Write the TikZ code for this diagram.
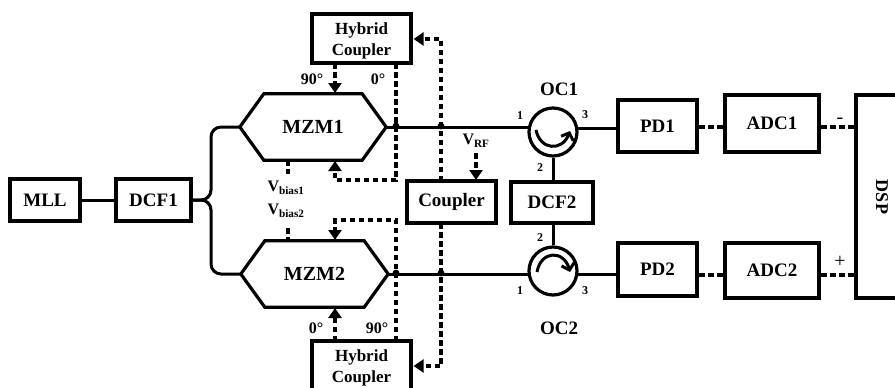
\documentclass[tikz,border=0pt]{standalone}
\usepackage{fontspec}
\setmainfont{Liberation Serif}
\usetikzlibrary{arrows.meta}
\tikzset{
	blk/.style={draw,line width=3.2,rectangle,inner sep=0,font=\bfseries\fontsize{19}{21}\selectfont,align=center},
	hybblk/.style={blk,font=\bfseries\fontsize{17}{21}\selectfont},
	hexnode/.style={inner sep=0,font=\bfseries\fontsize{20}{22}\selectfont},
	circnode/.style={draw,circle,line width=3.2,minimum size=48,inner sep=0},
	lbl/.style={inner sep=0,font=\bfseries\fontsize{16}{18}\selectfont},
	oclbl/.style={inner sep=0,font=\bfseries\fontsize{19}{21}\selectfont},
	numlbl/.style={inner sep=0,font=\bfseries\fontsize{12}{14}\selectfont},
	fib/.style={line width=3},
	sig/.style={line width=3.2,dash pattern=on 5.5pt off 3.5pt},
	sigarrow/.style={sig,-{Triangle[length=10pt,width=13pt]}},
}
\begin{document}
\begin{tikzpicture}[x=1pt,y=-1pt]
	\useasboundingbox (0,0) rectangle (895,388);
	% left part
	\node[blk,minimum width=70,minimum height=42] (mll) at (45,200) {MLL};
	\node[blk,minimum width=75,minimum height=42] (dcfa) at (153.5,200) {DCF1};
	\draw[fib] (mll) -- (dcfa);
	% modulators
	\node[hexnode,minimum width=146,minimum height=66] (mzma) at (313,127) {MZM1};
	\node[hexnode,minimum width=147,minimum height=66] (mzmb) at (314.5,274) {MZM2};
	\foreach \m in {mzma,mzmb}{
		\draw[line width=3.2] (\m.west) -- ([xshift=24]\m.north west) -- ([xshift=-24]\m.north east)
			-- (\m.east) -- ([xshift=-24]\m.south east) -- ([xshift=24]\m.south west) -- cycle;
	}
	\draw[fib,rounded corners=10] (dcfa.east) -- (211,200) -- (211,127) -- (mzma.west);
	\draw[fib,rounded corners=10] (dcfa.east) -- (211,200) -- (211,274) -- (mzmb.west);
	% hybrid couplers
	\node[hybblk,minimum width=99,minimum height=49] (hca) at (361.5,38.5) {\rule{0pt}{17pt}Hybrid\\Coupler};
	\node[hybblk,minimum width=99,minimum height=49] (hcb) at (361.5,365.5) {\rule{0pt}{17pt}Hybrid\\Coupler};
	\node[blk,minimum width=89,minimum height=42] (cpl) at (451.5,202) {Coupler};
	\coordinate (va) at (335,63);
	\coordinate (vb) at (335,93);
	\coordinate (ua) at (396,63);
	\coordinate (ub) at (396,180);
	\coordinate (uc) at (335,180);
	\coordinate (ud) at (335,161);
	\coordinate (wa) at (335,341);
	\coordinate (wb) at (335,308);
	\coordinate (xa) at (396,341);
	\coordinate (xb) at (396,220);
	\coordinate (xc) at (335,220);
	\coordinate (xd) at (335,240);
	\coordinate (ca) at (441,181);
	\coordinate (cb) at (441,39);
	\coordinate (cc) at (441,223);
	\coordinate (cd) at (441,366);
	\coordinate (rfa) at (476,153);
	\coordinate (rfb) at (476,180);
	\draw[sigarrow] (va) -- (vb);
	\draw[sigarrow] (ua) -- (ub) -- (uc) -- (ud);
	\draw[sigarrow] (wa) -- (wb);
	\draw[sigarrow] (xa) -- (xb) -- (xc) -- (xd);
	\draw[sigarrow] (ca) -- (cb) -- ([xshift=1]hca.east|-cb);
	\draw[sigarrow] (cc) -- (cd) -- ([xshift=1]hcb.east|-cd);
	\draw[sigarrow] (rfa) -- (rfb);
	% bias stubs
	\draw[sig] (288,160) -- (288,174);
	\draw[sig] (288,228) -- (288,241);
	\node[lbl] (bias1) at (286,188) {V\textsubscript{bias1}};
	\node[lbl] (bias2) at (286,211) {V\textsubscript{bias2}};
	\node[lbl] (vrf) at (476,141) {V\textsubscript{RF}};
	\node[lbl] (pha) at (312,79) {90°};
	\node[lbl] (phb) at (378,79) {0°};
	\node[lbl] (phc) at (316,328) {0°};
	\node[lbl] (phd) at (377,328) {90°};
	% circulators
	\node[circnode] (oca) at (553,132) {};
	\node[circnode] (ocb) at (553,271) {};
	\node[blk,minimum width=82,minimum height=41] (dcfb) at (552,202.5) {DCF2};
	\coordinate (ina) at (529,127);
	\coordinate (inb) at (529,274);
	\draw[fib] (mzma.east) -- (ina);
	\draw[fib] (mzmb.east) -- (inb);
	\fill (396,126) circle (3.4);
	\fill (441,126) circle (3.4);
	\fill (396,273) circle (3.4);
	\fill (441,273) circle (3.4);
	\draw[fib] (oca.south) -- (oca.south|-dcfb.north);
	\draw[fib] (ocb.north|-dcfb.south) -- (ocb.north);
	\draw[line width=3,-{Straight Barb[length=6pt,width=13pt]}] (536,130) .. controls (540,150) and (562,152) .. (570,131);
	\draw[line width=3,-{Straight Barb[length=6pt,width=13pt]}] (537,272) .. controls (541,250) and (564,250) .. (570,272);
	\node[oclbl] (oclbla) at (559,89) {OC1};
	\node[oclbl] (oclblb) at (559,328) {OC2};
	\node[numlbl] (na) at (520,116) {1};
	\node[numlbl] (nb) at (585,115) {3};
	\node[numlbl] (nc) at (540,168) {2};
	\node[numlbl] (nd) at (540,238) {2};
	\node[numlbl] (ne) at (520,291) {1};
	\node[numlbl] (nf) at (585,291) {3};
	% right part
	\node[blk,minimum width=79,minimum height=52] (pda) at (657.5,126) {PD1};
	\node[blk,minimum width=79,minimum height=53] (pdb) at (657.5,269.5) {PD2};
	\node[blk,minimum width=94,minimum height=57] (adca) at (772,123.5) {ADC1};
	\node[blk,minimum width=94,minimum height=55] (adcb) at (772,270.5) {ADC2};
	\node[blk,minimum width=60,minimum height=203] (dsp) at (886,196.5) {};
	\node[inner sep=0,rotate=-90,font=\bfseries\fontsize{18}{20}\selectfont] (dsplbl) at (882,197) {DSP};
	\coordinate (outa) at (578,128);
	\coordinate (outb) at (578,274);
	\draw[fib] (outa) -- (outa-|pda.west);
	\draw[fib] (outb) -- (outb-|pdb.west);
	\coordinate (ya) at (699,127);
	\coordinate (yb) at (821,127);
	\coordinate (za) at (699,275);
	\coordinate (zb) at (821,275);
	\draw[sig] (ya) -- (ya-|adca.west);
	\draw[sig] (yb) -- (yb-|dsp.west);
	\draw[sig] (za) -- (za-|adcb.west);
	\draw[sig] (zb) -- (zb-|dsp.west);
	\node[inner sep=0,font=\fontsize{20}{22}\selectfont] (minus) at (840,121) {-};
	\node[inner sep=0,font=\fontsize{20}{22}\selectfont] (plus) at (840,262) {+};
\end{tikzpicture}
\end{document}
